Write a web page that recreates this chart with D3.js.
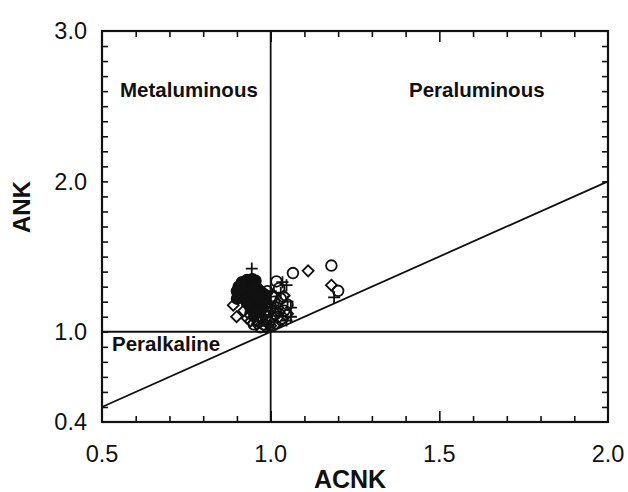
<!DOCTYPE html>
<html>
<head>
<meta charset="utf-8">
<script src="https://d3js.org/d3.v7.min.js"></script>
<style>
  body { margin: 0; background: #fff; }
  text { font-family: Arial, "Liberation Sans", sans-serif; fill: #111; }
</style>
</head>
<body>
<script>
// axis ranges and tick labels
var xDomain = [0.5, 2.0];
var yDomain = [0.4, 3.0];
var xTickLabels = [0.5, 1.0, 1.5, 2.0];
var yTickLabels = [0.4, 1.0, 2.0, 3.0];

// samples, [ACNK, ANK] by symbol
var filledCircles = [
  [0.905, 1.30], [0.915, 1.33], [0.93, 1.345], [0.945, 1.35], [0.955, 1.34],
  [0.90, 1.27], [0.91, 1.25], [0.925, 1.28], [0.94, 1.30], [0.96, 1.29],
  [0.97, 1.27], [0.92, 1.22], [0.935, 1.24], [0.95, 1.26], [0.965, 1.23],
  [0.98, 1.25], [0.945, 1.20], [0.96, 1.17], [0.975, 1.19], [0.93, 1.19],
  [0.90, 1.22], [0.94, 1.16], [0.97, 1.14], [0.915, 1.29], [0.95, 1.31],
  [0.985, 1.21], [0.955, 1.12]
];
var openCircles = [
  [1.18, 1.44], [1.066, 1.39], [1.017, 1.335], [1.20, 1.272],
  [0.96, 1.08], [0.98, 1.05], [1.00, 1.08], [1.02, 1.10], [1.04, 1.14],
  [0.94, 1.12], [1.01, 1.20], [1.03, 1.22], [0.97, 1.03], [1.05, 1.18],
  [0.99, 1.13], [1.025, 1.29], [0.99, 1.27], [1.00, 1.17], [0.985, 1.10],
  [1.01, 1.12], [0.995, 1.06], [1.02, 1.16], [0.965, 1.07], [1.005, 1.23],
  [0.95, 1.05], [1.035, 1.09], [0.975, 1.09], [1.015, 1.14]
];
var diamonds = [
  [1.111, 1.405], [1.18, 1.31], [0.899, 1.10], [0.889, 1.177], [0.92, 1.14],
  [0.94, 1.07], [0.96, 1.05], [1.00, 1.04], [1.03, 1.07], [1.05, 1.12],
  [0.98, 1.16], [1.02, 1.19], [0.95, 1.10], [1.04, 1.24], [0.975, 1.21],
  [0.93, 1.09], [0.99, 1.19], [1.015, 1.05], [0.985, 1.03], [1.025, 1.13]
];
var pluses = [
  [0.944, 1.42], [1.188, 1.229], [1.047, 1.31], [1.047, 1.075], [1.03, 1.26],
  [1.06, 1.16], [0.97, 1.20], [1.00, 1.27], [1.05, 1.20], [0.99, 1.04],
  [1.06, 1.10], [1.035, 1.33], [0.98, 1.11]
];

var width = 628, height = 492;
// plot box edges (window.top is read-only, so no "top" here)
var plotL = 102, plotR = 608, plotT = 31, plotB = 422;

var svg = d3.select("body").append("svg").attr("width", width).attr("height", height);

var x = d3.scaleLinear().domain(xDomain).range([plotL, plotR]);
var y = d3.scaleLinear().domain(yDomain).range([plotB, plotT]);

// minor ticks every 0.1 on all four sides
var xMinor = d3.range(6, 20).map(function(d) { return d / 10; });
var yMinor = d3.range(5, 30).map(function(d) { return d / 10; });
var isMajorX = function(d) { return Math.abs(d * 2 - Math.round(d * 2)) < 1e-6; };

svg.append("g").attr("transform", "translate(0," + plotB + ")")
  .call(d3.axisTop(x).tickValues(xMinor).tickSizeInner(6).tickSizeOuter(0).tickFormat(""))
  .call(function(g) { g.selectAll(".tick line").attr("y2", function(d) { return isMajorX(d) ? -11 : -6; }); });
svg.append("g").attr("transform", "translate(0," + plotT + ")")
  .call(d3.axisBottom(x).tickValues(xMinor).tickSizeInner(6).tickSizeOuter(0).tickFormat(""))
  .call(function(g) { g.selectAll(".tick line").attr("y2", function(d) { return isMajorX(d) ? 11 : 6; }); });
svg.append("g").attr("transform", "translate(" + plotL + ",0)")
  .call(d3.axisRight(y).tickValues(yMinor).tickSizeInner(6).tickSizeOuter(0).tickFormat(""));
svg.append("g").attr("transform", "translate(" + plotR + ",0)")
  .call(d3.axisLeft(y).tickValues(yMinor).tickSizeInner(6).tickSizeOuter(0).tickFormat(""));

svg.selectAll(".domain").remove();
svg.selectAll(".tick line").attr("stroke", "#111").attr("stroke-width", 1.6);

// frame
svg.append("rect").attr("x", plotL).attr("y", plotT).attr("width", plotR - plotL).attr("height", plotB - plotT)
  .attr("fill", "none").attr("stroke", "#111").attr("stroke-width", 2.2);

// tick labels
svg.selectAll(".xlab").data(xTickLabels).enter().append("text")
  .attr("x", function(d) { return x(d); }).attr("y", 462)
  .attr("text-anchor", "middle").attr("font-size", 23.5)
  .text(function(d) { return d.toFixed(1); });
svg.selectAll(".ylab").data(yTickLabels).enter().append("text")
  .attr("x", 87).attr("y", function(d) { return y(d); })
  .attr("dy", "0.35em").attr("text-anchor", "end").attr("font-size", 23.5)
  .text(function(d) { return d.toFixed(1); });

// axis titles
svg.append("text").attr("x", 350).attr("y", 488).attr("text-anchor", "middle")
  .attr("font-size", 25).attr("font-weight", "bold").text("ACNK");
svg.append("text").attr("transform", "translate(30," + 207 + ") rotate(-90)")
  .attr("text-anchor", "middle").attr("font-size", 24).attr("font-weight", "bold").text("ANK");

// boundary lines
var lines = svg.append("g").attr("stroke", "#111").attr("stroke-width", 1.8);
lines.append("line").attr("x1", x(1.0)).attr("x2", x(1.0)).attr("y1", y(yDomain[0])).attr("y2", y(yDomain[1]));
lines.append("line").attr("x1", x(xDomain[0])).attr("x2", x(xDomain[1])).attr("y1", y(1.0)).attr("y2", y(1.0));
lines.append("line").attr("x1", x(0.5)).attr("y1", y(0.5)).attr("x2", x(2.0)).attr("y2", y(2.0));

// field names
svg.append("text").attr("x", 120).attr("y", 97).attr("font-size", 20.5).attr("font-weight", "bold").text("Metaluminous");
svg.append("text").attr("x", 409).attr("y", 97).attr("font-size", 20.5).attr("font-weight", "bold").text("Peraluminous");
svg.append("text").attr("x", 112).attr("y", 351).attr("font-size", 20.5).attr("font-weight", "bold").text("Peralkaline");

// symbols
var plusType = { draw: function(c, s) { var r = Math.sqrt(s) / 2; c.moveTo(-r, 0); c.lineTo(r, 0); c.moveTo(0, -r); c.lineTo(0, r); } };
var diamondType = { draw: function(c, s) { var r = Math.sqrt(s) / 2; c.moveTo(0, -r); c.lineTo(r, 0); c.lineTo(0, r); c.lineTo(-r, 0); c.closePath(); } };

function drawSet(data, type, size, fill) {
  svg.append("g").selectAll("path").data(data).enter().append("path")
    .attr("transform", function(d) { return "translate(" + x(d[0]) + "," + y(d[1]) + ")"; })
    .attr("d", d3.symbol().type(type).size(size))
    .attr("fill", fill).attr("stroke", "#111").attr("stroke-width", 1.8);
}

drawSet(diamonds, diamondType, 121, "none");
drawSet(openCircles, d3.symbolCircle, 90, "none");
drawSet(pluses, plusType, 144, "none");
drawSet(filledCircles, d3.symbolCircle, 90, "#111");
</script>
</body>
</html>
